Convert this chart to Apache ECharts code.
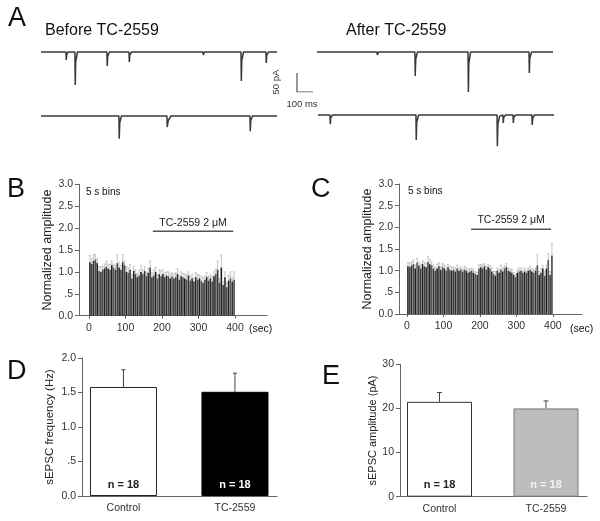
<!DOCTYPE html>
<html><head><meta charset="utf-8">
<script src="https://cdn.jsdelivr.net/npm/echarts@6/dist/echarts.min.js"></script>
<style>html,body{margin:0;padding:0;background:#fff}#c{width:600px;height:521px}</style>
</head><body><div id="c"></div><script>
// ---- Panel A traces: [time ms, current pA]
const traceBefore1 = [[0,0],[156,0],[158,-21],[161,-6],[170,0],[212,0],[214,-87],[217,-25],[228,0],[412,0],[414,-37],[417,-11],[428,0],[550,0],[552,-26],[555,-8],[566,0],[1012,0],[1014,-8],[1022,0],[1250,0],[1252,-76],[1255,-22],[1266,0],[1406,0],[1408,-29],[1411,-9],[1422,0],[1475,0]];
const traceBefore2 = [[0,0],[487,0],[489,-60],[492,-18],[503,0],[787,0],[789,-29],[795,-12],[812,0],[1306,0],[1308,-40],[1311,-12],[1322,0],[1475,0]];
const traceAfter1 = [[0,0],[375,0],[377,-8],[385,0],[612,0],[614,-63],[617,-19],[628,0],[944,0],[946,-105],[949,-30],[960,0],[1325,0],[1327,-55],[1330,-16],[1341,0],[1475,0]];
const traceAfter2 = [[0,0],[75,0],[77,-24],[80,-7],[91,0],[612,0],[614,-66],[617,-20],[628,0],[1119,0],[1121,-82],[1124,-25],[1135,-3],[1156,0],[1158,-21],[1161,-6],[1172,0],[1219,0],[1221,-21],[1224,-6],[1235,0],[1337,0],[1339,-26],[1342,-8],[1353,0],[1475,0]];
const scaleBar = [[0,50],[0,0],[100,0]];

// ---- Panels B, C: 5 s bins
const binWidthSec = 5;
const bValues = [1.22,1.18,1.25,1.28,1.20, 1.02,1.00,1.05,1.08,1.12, 1.08,1.05,1.15,1.10,1.05, 1.20,1.10,1.05,1.22,1.15,
 1.00,0.98,1.05,0.85,1.02, 0.95,0.88,0.92,1.00,0.95, 1.02,0.90,0.98,1.10,0.88, 0.92,1.00,0.85,0.95,0.90,
 0.95,0.88,0.92,0.90,0.85, 0.90,0.85,0.88,0.95,0.82, 0.90,0.88,0.85,0.82,0.92, 0.80,0.85,0.78,0.88,0.82,
 0.85,0.80,0.75,0.82,0.88, 0.80,0.85,0.78,0.90,0.95, 1.05,0.75,1.10,0.70,0.88, 0.65,0.80,0.85,0.78,0.82];
const bErrors = [0.15,0.12,0.14,0.12,0.10, 0.10,0.12,0.08,0.10,0.12, 0.10,0.12,0.10,0.08,0.10, 0.20,0.12,0.10,0.18,0.10,
 0.12,0.10,0.12,0.08,0.10, 0.10,0.08,0.12,0.15,0.10, 0.10,0.08,0.10,0.15,0.10, 0.12,0.10,0.08,0.10,0.12,
 0.10,0.10,0.08,0.10,0.10, 0.08,0.10,0.10,0.12,0.10, 0.10,0.08,0.10,0.12,0.08, 0.10,0.10,0.08,0.10,0.12,
 0.08,0.10,0.12,0.08,0.10, 0.10,0.08,0.12,0.10,0.12, 0.20,0.10,0.28,0.08,0.12, 0.10,0.12,0.15,0.10,0.18];
const cValues = [1.10,1.08,1.12,1.15,1.05, 1.18,1.12,1.05,1.15,1.10, 1.08,1.20,1.15,1.12,1.05, 1.00,1.05,1.10,1.02,1.08,
 1.05,1.00,1.08,1.02,1.00, 1.02,0.98,1.05,1.00,1.03, 0.98,1.02,1.00,0.95,0.98, 1.00,0.95,0.92,0.90,1.05,
 1.08,1.05,1.10,1.02,1.08, 1.05,0.98,0.92,0.88,1.00, 0.95,1.02,0.98,1.05,1.08, 1.00,0.98,0.95,0.90,0.85,
 0.95,0.98,1.00,0.95,0.98, 0.95,1.00,1.02,0.98,0.95, 1.00,1.12,0.90,0.95,1.05, 0.88,1.05,1.25,0.90,1.35];
const cErrors = [0.08,0.10,0.08,0.10,0.08, 0.10,0.08,0.10,0.08,0.10, 0.08,0.12,0.10,0.08,0.08, 0.08,0.10,0.08,0.08,0.08,
 0.08,0.08,0.06,0.08,0.08, 0.06,0.08,0.08,0.06,0.06, 0.06,0.08,0.06,0.08,0.06, 0.06,0.08,0.06,0.06,0.08,
 0.06,0.08,0.06,0.08,0.06, 0.06,0.08,0.06,0.10,0.06, 0.08,0.10,0.08,0.06,0.08, 0.06,0.06,0.08,0.06,0.06,
 0.06,0.08,0.06,0.06,0.08, 0.06,0.06,0.08,0.06,0.08, 0.06,0.25,0.08,0.10,0.06, 0.10,0.08,0.15,0.08,0.28];
const drugPeriodB = [[175,1.93],[395,1.93]];
const drugPeriodC = [[176,1.96],[395,1.96]];
const secTicks = [0,100,200,300,400];

// ---- Panels D, E
const groups = ['Control','TC-2559'];
const nLabels = ['n = 18','n = 18'];
const freqMeans = [1.58,1.51];
const freqSEM = [0.25,0.27];
const ampMeans = [21.5,20.0];
const ampSEM = [2.1,1.7];

const FONT = 'Liberation Sans, Arial, sans-serif';
const AX = '#666', TX = '#333';
const shades = ['#222','#3c3c3c','#2b2b2b','#4a4a4a','#1c1c1c','#555','#333','#454545'];

const binX = bValues.map((_, i) => i * binWidthSec + binWidthSec / 2);

function errRender(capW, color, lw){
  return function(params, api){
    const x = api.value(0), v = api.value(1), e = api.value(2);
    const p0 = api.coord([x, v]), p1 = api.coord([x, v + e]);
    return {type:'group', children:[
      {type:'line', shape:{x1:p0[0],y1:p0[1],x2:p1[0],y2:p1[1]}, style:{stroke:color,lineWidth:lw}},
      {type:'line', shape:{x1:p1[0]-capW/2,y1:p1[1],x2:p1[0]+capW/2,y2:p1[1]}, style:{stroke:color,lineWidth:lw}}
    ]};
  };
}
const decFmt = v => v === 0 ? '0.0' : (v === 0.5 ? '.5' : v.toFixed(1));

const grids = [
  {left:41, top:48.2, width:236, height:45.6},
  {left:41, top:112.2, width:236, height:45.6},
  {left:317, top:48.2, width:236, height:45.6},
  {left:318, top:111.2, width:236, height:45.6},
  {left:297, top:73, width:16, height:19},
  {left:79, top:184.3, width:188, height:131.4},
  {left:399, top:184, width:183, height:130},
  {left:82, top:358, width:195, height:138},
  {left:400, top:364.3, width:187, height:132.4}
];
const xAxes = [], yAxes = [];
for (let i = 0; i < 4; i++) {
  xAxes.push({gridIndex:i, type:'value', min:0, max:1475, show:false});
  yAxes.push({gridIndex:i, type:'value', min:-110, max:10, show:false});
}
xAxes.push({gridIndex:4, type:'value', min:0, max:100, show:false});
yAxes.push({gridIndex:4, type:'value', min:0, max:50, show:false});

function secAxis(g, min, max){
  return {gridIndex:g, type:'value', min:min, max:max, splitLine:{show:false},
    axisLine:{onZero:false, lineStyle:{color:AX, width:1}},
    axisTick:{show:true, length:3, customValues:secTicks, lineStyle:{color:AX}},
    axisLabel:{customValues:secTicks, color:TX, fontSize:10.5, fontFamily:FONT, margin:7}};
}
function normAxis(g, gap){
  return {gridIndex:g, type:'value', min:0, max:3, interval:0.5, splitLine:{show:false},
    name:'Normalized amplitude', nameLocation:'middle', nameGap:gap,
    nameTextStyle:{fontSize:12.5, color:'#222', fontFamily:FONT},
    axisLine:{show:true, onZero:false, lineStyle:{color:AX}}, axisTick:{show:true, length:4, lineStyle:{color:AX}},
    axisLabel:{formatter:decFmt, color:TX, fontSize:10.5, fontFamily:FONT, margin:6}};
}
xAxes.push(secAxis(5, -27.4, 487.7));
yAxes.push(normAxis(5, 24));
xAxes.push(secAxis(6, -22, 480));
yAxes.push(normAxis(6, 22));

function grpAxis(g, min, max){
  return {gridIndex:g, type:'value', min:min, max:max, splitLine:{show:false},
    axisLine:{onZero:false, lineStyle:{color:AX}}, axisTick:{show:false},
    axisLabel:{customValues:[0,1], formatter:v => groups[Math.round(v)], color:TX, fontSize:10.5, fontFamily:FONT, margin:7}};
}
xAxes.push(grpAxis(7, -0.372, 1.377));
yAxes.push({gridIndex:7, type:'value', min:0, max:2, interval:0.5, splitLine:{show:false},
  name:'sEPSC frequency (Hz)', nameLocation:'middle', nameGap:26,
  nameTextStyle:{fontSize:11.5, color:'#222', fontFamily:FONT},
  axisLine:{show:true, onZero:false, lineStyle:{color:AX}}, axisTick:{show:true, length:4, lineStyle:{color:AX}},
  axisLabel:{formatter:decFmt, color:TX, fontSize:10.5, fontFamily:FONT, margin:6}});
xAxes.push(grpAxis(8, -0.371, 1.385));
yAxes.push({gridIndex:8, type:'value', min:0, max:30, interval:10, splitLine:{show:false},
  name:'sEPSC amplitude (pA)', nameLocation:'middle', nameGap:22,
  nameTextStyle:{fontSize:11, color:'#222', fontFamily:FONT},
  axisLine:{show:true, onZero:false, lineStyle:{color:AX}}, axisTick:{show:true, length:4, lineStyle:{color:AX}},
  axisLabel:{color:TX, fontSize:10.5, fontFamily:FONT, margin:6}});

const series = [];
[traceBefore1, traceBefore2, traceAfter1, traceAfter2].forEach((t, i) => {
  series.push({type:'line', xAxisIndex:i, yAxisIndex:i, data:t, symbol:'none',
    lineStyle:{color:'#383838', width:1.5}, silent:true, animation:false});
});
series.push({type:'line', xAxisIndex:4, yAxisIndex:4, data:scaleBar, symbol:'none', lineStyle:{color:'#555', width:1.2}, animation:false});

function binPanel(g, vals, errs, drug){
  series.push({type:'bar', xAxisIndex:g, yAxisIndex:g, barWidth:1.6, animation:false,
    data: binX.map((x, i) => [x, vals[i]]),
    itemStyle:{color: p => shades[p.dataIndex % shades.length]}});
  series.push({type:'custom', xAxisIndex:g, yAxisIndex:g, animation:false,
    renderItem: errRender(2.2, '#b8b8b8', 0.8), encode:{x:0, y:1},
    data: binX.map((x, i) => [x, vals[i], errs[i]])});
  series.push({type:'line', xAxisIndex:g, yAxisIndex:g, data:drug, symbol:'none', animation:false,
    lineStyle:{color:'#555', width:1.2},
    markLine:{silent:true, symbol:'none', lineStyle:{color:'#555', width:1.2, type:'solid'},
      label:{show:true, position:'insideMiddleTop', formatter:'TC-2559 2 \u03bcM', color:'#222', fontSize:10.5, fontFamily:FONT, distance:3},
      data:[[{coord:drug[0]},{coord:drug[1]}]]}});
}
binPanel(5, bValues, bErrors, drugPeriodB);
binPanel(6, cValues, cErrors, drugPeriodC);

function groupPanel(g, means, sems, barW, styles, labelColors, capW){
  series.push({type:'bar', xAxisIndex:g, yAxisIndex:g, barWidth:barW, animation:false,
    data: means.map((m, i) => ({value:[i, m], itemStyle:styles[i],
      label:{show:true, position:'insideBottom', distance:6, formatter:nLabels[i], color:labelColors[i], fontSize:11, fontWeight:'bold', fontFamily:FONT}}))});
  series.push({type:'custom', xAxisIndex:g, yAxisIndex:g, animation:false,
    renderItem: errRender(capW, '#444', 1), encode:{x:0, y:1},
    data: means.map((m, i) => [i, m, sems[i]])});
}
groupPanel(7, freqMeans, freqSEM, 67,
  [{color:'#fff', borderColor:'#222', borderWidth:1}, {color:'#000', borderColor:'#000', borderWidth:1}],
  ['#222','#fff'], 4);
groupPanel(8, ampMeans, ampSEM, 65,
  [{color:'#fff', borderColor:'#333', borderWidth:1}, {color:'#bdbdbd', borderColor:'#777', borderWidth:1}],
  ['#222','#f2f2f2'], 5);

function txt(x, y, s, size, align, fill){
  return {type:'text', x:x, y:y, style:{text:s, fontSize:size, fontFamily:FONT, fill:fill||'#111', textAlign:align||'left', textVerticalAlign:'middle'}};
}
const graphic = [
  txt(8, 19, 'A', 27),
  txt(45, 31, 'Before TC-2559', 16),
  txt(346, 31, 'After TC-2559', 16),
  {type:'text', x:276, y:82, rotation:Math.PI/2, style:{text:'50 pA', fontSize:9.5, fontFamily:FONT, fill:'#333', textAlign:'center', textVerticalAlign:'middle'}},
  txt(302, 104, '100 ms', 9.5, 'center', '#333'),
  txt(7, 190, 'B', 27),
  txt(311, 190, 'C', 27),
  txt(7, 372, 'D', 27),
  txt(322, 377, 'E', 27),
  txt(86, 192, '5 s bins', 10),
  txt(408, 191, '5 s bins', 10),
  txt(249, 329, '(sec)', 10.5),
  txt(570, 329, '(sec)', 10.5)
];

const chart = echarts.init(document.getElementById('c'), null, {renderer:'canvas'});
chart.setOption({animation:false, backgroundColor:'#fff', textStyle:{fontFamily:FONT},
  grid:grids, xAxis:xAxes, yAxis:yAxes, series:series, graphic:graphic});
</script></body></html>
